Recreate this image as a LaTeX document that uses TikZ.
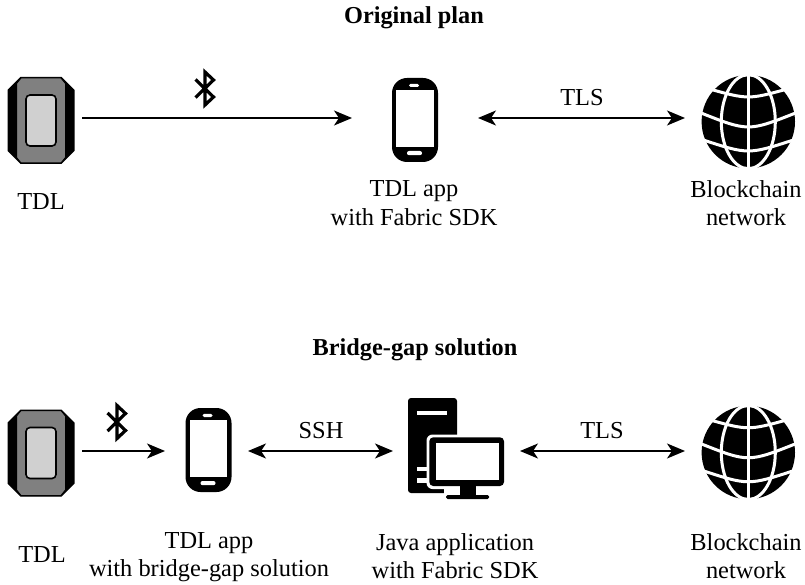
\documentclass[tikz,border=0pt]{standalone}
\usepackage{fontspec}
\setmainfont{Liberation Serif}
\usetikzlibrary{arrows.meta}
\definecolor{tdlgray}{HTML}{808080}
\definecolor{tdlscreen}{HTML}{D0D0D0}
\tikzset{
  anchorbox/.style={inner sep=0pt,outer sep=0pt,minimum height=10pt},
  txt/.style={font=\fontsize{24.4}{28.6}\selectfont,align=center,inner sep=0pt},
  ttl/.style={font=\fontsize{24.3}{28}\selectfont\bfseries,inner sep=0pt},
  link/.style={line width=2pt,-{Stealth[length=18pt,width=15pt,inset=5pt]}},
  duplex/.style={line width=2pt,{Stealth[length=18pt,width=15pt,inset=5pt]}-{Stealth[length=18pt,width=15pt,inset=5pt]}},
  pics/tdlicon/.style={code={
    \fill[black] (-20.5,-43.5)--(20.5,-43.5)--(33.5,-30.5)--(33.5,30.5)--(20.5,43.5)--(-20.5,43.5)--(-33.5,30.5)--(-33.5,-30.5)--cycle;
    \filldraw[fill=tdlgray,draw=black,line width=1pt] (-20,-42.5)--(20,-42.5)--(24.5,-37)--(24.5,37)--(20,42.5)--(-20,42.5)--(-24.5,37)--(-24.5,-37)--cycle;
    \filldraw[fill=tdlscreen,draw=black,line width=1.6pt,rounded corners=4pt] (-15,-25.5) rectangle (15,25.5);
  }},
  pics/phoneicon/.style={code={
    \fill[black,rounded corners=15pt] (-23,-42) rectangle (23,42);
    \fill[white] (-18.7,-30) rectangle (18.7,26.7);
    \fill[white,rounded corners=1.5pt] (-6,-36.2) rectangle (4,-33);
    \fill[white,rounded corners=2pt] (-8,31) rectangle (7,35.2);
  }},
  pics/globeicon/.style={code={
    \fill[black] (0,0) circle (46.7);
    \begin{scope}
      \clip (0,0) circle (47.5);
      \draw[white,line width=3pt] (0,-48)--(0,48);
      \draw[white,line width=3pt] (0,0) ellipse (27 and 47);
      \draw[white,line width=3pt] (-40,-33) .. controls (0,-22) .. (40,-33);
      \draw[white,line width=3pt] (-48,-9) .. controls (0,10) .. (48,-9);
      \draw[white,line width=3pt] (-46,18) .. controls (0,33) .. (46,18);
    \end{scope}
  }},
  pics/pcicon/.style={code={
    \fill[black,rounded corners=3pt] (408,493)--(408,398)--(457,398)--(457,493)--cycle;
    \fill[white] (417.3,410.7) rectangle (447.3,415);
    \fill[white] (417,467) rectangle (430,470.7);
    \fill[white] (417,478) rectangle (430,482.6);
    \fill[white,rounded corners=6pt] (426.5,434.5) rectangle (506,489);
    \fill[white] (444,489) rectangle (506,500);
    \fill[black,rounded corners=4pt] (429.3,437.3) rectangle (504,486);
    \fill[white] (436,443.3) rectangle (498.7,480);
    \fill[black] (460,486) rectangle (476,496);
    \fill[black,rounded corners=1.5pt] (446,495) rectangle (489,499);
  }},
  pics/bticon/.style={code={
    \draw[black,line width=3.2pt,line join=miter,miter limit=10]
      (-9.5,-9)--(8.5,8.5)--(0,16.5)--(0,-16.5)--(8.5,-8.5)--(-9.5,9);
  }}
}
\begin{document}
\begin{tikzpicture}[x=1pt,y=-1pt]
\useasboundingbox (0,0) rectangle (805,585);
% anchor nodes: their width sets the free gap round each icon
\node[anchorbox,minimum width=83pt]  (tdlA)   at (40.5,118) {};
\node[anchorbox,minimum width=126pt] (appA)   at (415,118) {};
\node[anchorbox,minimum width=126pt] (netA)   at (748,118) {};
\node[anchorbox,minimum width=83pt]  (tdlB)   at (40.5,451) {};
\node[anchorbox,minimum width=83pt]  (appB)   at (206.5,451) {};
\node[anchorbox,minimum width=127pt] (javaB)  at (456.5,451) {};
\node[anchorbox,minimum width=126pt] (netB)   at (748,451) {};
% icons
\pic at (41,120.5) {tdlicon};
\pic at (415,120) {phoneicon};
\pic at (748.3,121.7) {globeicon};
\pic at (41,453) {tdlicon};
\pic at (208.5,450) {phoneicon};
\pic at (0,0) {pcicon};
\pic at (748.3,452.5) {globeicon};
\pic at (205,88.5) {bticon};
\pic at (117,422) {bticon};
% connectors
\draw[link] (tdlA.east) -- (appA.west);
\draw[duplex] (appA.east) -- (netA.west);
\draw[link] (tdlB.east) -- (appB.west);
\draw[duplex] (appB.east) -- (javaB.west);
\draw[duplex] (javaB.east) -- (netB.west);
% texts
\node[ttl] (titleA) at (414,18) {Original plan};
\node[ttl] (titleB) at (415,350) {Bridge-gap solution};
\node[txt] (lblTdlA) at (41,202) {TDL};
\node[txt] (lblAppA) at (414,203) {TDL app\\with Fabric SDK};
\node[txt] (lblNetA) at (746,203) {Blockchain\\network};
\node[txt] (lblTlsA) at (582,98) {TLS};
\node[txt] (lblTdlB) at (42,555) {TDL};
\node[txt] (lblAppB) at (209,557) {TDL app\\with bridge-gap solution};
\node[txt] (lblJava) at (455,556) {Java application\\with Fabric SDK};
\node[txt] (lblNetB) at (746,556) {Blockchain\\network};
\node[txt] (lblSsh) at (321,431) {SSH};
\node[txt] (lblTlsB) at (602,431) {TLS};
\end{tikzpicture}
\end{document}
